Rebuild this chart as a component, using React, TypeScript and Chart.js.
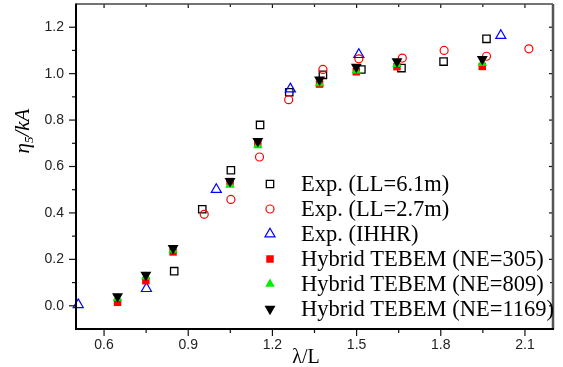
import React, { useEffect, useRef } from "react";
import { Chart, registerables } from "chart.js";
import { drawPoint } from "chart.js/helpers";

Chart.register(...registerables);

// ---- data ----
const xExp61 = [0.85, 0.95, 1.052, 1.156, 1.26, 1.38, 1.517, 1.66, 1.81, 1.963];
const yExp61 = [0.149, 0.416, 0.584, 0.779, 0.92, 0.995, 1.018, 1.024, 1.052, 1.15];

const xExp27 = [0.957, 1.052, 1.154, 1.258, 1.38, 1.508, 1.663, 1.812, 1.963, 2.114];
const yExp27 = [0.394, 0.458, 0.641, 0.888, 1.018, 1.064, 1.067, 1.1, 1.075, 1.107];

const xIHHR = [0.508, 0.751, 1.0, 1.264, 1.508, 2.014];
const yIHHR = [0.005, 0.074, 0.501, 0.934, 1.082, 1.164];

const xHybrid = [0.648, 0.749, 0.846, 1.049, 1.148, 1.368, 1.499, 1.644, 1.948];
const yNE305 = [0.015, 0.108, 0.232, 0.535, 0.705, 0.955, 1.008, 1.03, 1.031];
const yNE809 = [0.032, 0.125, 0.24, 0.52, 0.69, 0.958, 1.012, 1.04, 1.045];
const yNE1169 = [0.04, 0.133, 0.248, 0.537, 0.709, 0.974, 1.029, 1.053, 1.062];

const seriesLabels = [
  "Exp. (LL=6.1m)",
  "Exp. (LL=2.7m)",
  "Exp. (IHHR)",
  "Hybrid TEBEM (NE=305)",
  "Hybrid TEBEM (NE=809)",
  "Hybrid TEBEM (NE=1169)",
];

const xMajorTicks = [0.6, 0.9, 1.2, 1.5, 1.8, 2.1];
const xMinorTicks = [0.75, 1.05, 1.35, 1.65, 1.95];
const yMajorTicks = [0.0, 0.2, 0.4, 0.6, 0.8, 1.0, 1.2];
const yMinorTicks = [0.1, 0.3, 0.5, 0.7, 0.9, 1.1];

const X_MIN = 0.5;
const X_MAX = 2.2;
const Y_MIN = -0.1;
const Y_MAX = 1.3;

const pts = (xs: number[], ys: number[]) => xs.map((x, i) => ({ x, y: ys[i] }));

const TICK_FONT = "14px 'Liberation Sans', Arial, sans-serif";

function drawFrame(chart: any) {
  const { ctx } = chart;
  const xs = chart.scales.x;
  const ys = chart.scales.y;
  const left = xs.left;
  const right = xs.right;
  const top = ys.top;
  const bottom = ys.bottom;
  ctx.save();
  const line = (x1: number, y1: number, x2: number, y2: number) => {
    ctx.beginPath();
    ctx.moveTo(x1, y1);
    ctx.lineTo(x2, y2);
    ctx.stroke();
  };
  ctx.strokeStyle = "#111";
  ctx.lineWidth = 1.2;
  xMajorTicks.forEach((v) => {
    const p = xs.getPixelForValue(v);
    line(p, bottom, p, bottom + 7);
    line(p, top, p, top + 4);
  });
  xMinorTicks.forEach((v) => {
    const p = xs.getPixelForValue(v);
    line(p, bottom, p, bottom + 4);
    line(p, top, p, top + 3);
  });
  yMajorTicks.forEach((v) => {
    const p = ys.getPixelForValue(v);
    line(left - 7, p, left, p);
    line(right - 4, p, right, p);
  });
  yMinorTicks.forEach((v) => {
    const p = ys.getPixelForValue(v);
    line(left - 4, p, left, p);
    line(right - 3, p, right, p);
  });
  ctx.strokeStyle = "#444";
  ctx.lineWidth = 1.5;
  line(left, top, right, top);
  ctx.strokeStyle = "#555";
  ctx.lineWidth = 2.5;
  line(right, top, right, bottom);
  ctx.strokeStyle = "#000";
  ctx.lineWidth = 2;
  line(left, top - 0.5, left, bottom + 1);
  line(left - 1, bottom, right + 1, bottom);

  // tick labels
  ctx.fillStyle = "#222";
  ctx.font = TICK_FONT;
  ctx.textAlign = "center";
  ctx.textBaseline = "middle";
  xMajorTicks.forEach((v) => {
    ctx.fillText(v.toFixed(1), xs.getPixelForValue(v), bottom + 16);
  });
  ctx.textAlign = "right";
  yMajorTicks.forEach((v) => {
    ctx.fillText(v.toFixed(1), left - 12, ys.getPixelForValue(v));
  });
  ctx.restore();
}

const framePlugin = {
  id: "frame",
  afterDraw(chart: any) {
    drawFrame(chart);
    const { ctx } = chart;
    ctx.save();
    // legend
    const lx = 270;
    const tx = 301;
    const y0 = 184;
    const dy = 25;
    ctx.font = "22.5px 'Liberation Serif', 'Times New Roman', serif";
    ctx.textBaseline = "middle";
    ctx.textAlign = "left";
    chart.data.datasets.forEach((ds: any, i: number) => {
      const y = y0 + i * dy;
      ctx.fillStyle = ds.pointBackgroundColor;
      ctx.strokeStyle = ds.pointBorderColor;
      ctx.lineWidth = ds.pointBorderWidth;
      drawPoint(
        ctx,
        {
          pointStyle: ds.pointStyle,
          rotation: ds.pointRotation || 0,
          radius: ds.pointRadius,
          borderWidth: ds.pointBorderWidth,
        },
        lx,
        y
      );
      ctx.fillStyle = "#000";
      ctx.fillText(ds.label, tx, y + 1);
    });

    // x title
    ctx.fillStyle = "#000";
    ctx.textAlign = "center";
    ctx.textBaseline = "alphabetic";
    ctx.font = "20px 'Liberation Serif', 'Times New Roman', serif";
    ctx.fillText("λ/L", 306, 363);

    // y title: η₅/kA rotated
    ctx.translate(28.5, 131);
    ctx.rotate(-Math.PI / 2);
    ctx.textAlign = "left";
    const big = "italic 21px 'Liberation Serif', 'Times New Roman', serif";
    const small = "italic 13px 'Liberation Serif', 'Times New Roman', serif";
    ctx.font = big;
    const wEta = ctx.measureText("η").width;
    const wRest = ctx.measureText("/kA").width;
    ctx.font = small;
    const w5 = ctx.measureText("5").width;
    const total = wEta + w5 + wRest;
    let cx = -total / 2;
    ctx.font = big;
    ctx.fillText("η", cx, 0);
    cx += wEta;
    ctx.font = small;
    ctx.fillText("5", cx, 4);
    cx += w5;
    ctx.font = big;
    ctx.fillText("/kA", cx, 0);
    ctx.restore();
  },
};

export default function App() {
  const ref = useRef<HTMLCanvasElement | null>(null);
  useEffect(() => {
    if (!ref.current) return;
    const common = { showLine: false, clip: false as any };
    const chart = new Chart(ref.current, {
      type: "scatter",
      data: {
        datasets: [
          {
            ...common,
            label: seriesLabels[0],
            data: pts(xExp61, yExp61),
            pointStyle: "rect",
            pointRadius: 5.2,
            pointBorderWidth: 1.3,
            pointBorderColor: "#000",
            pointBackgroundColor: "rgba(0,0,0,0)",
            order: 5,
          },
          {
            ...common,
            label: seriesLabels[1],
            data: pts(xExp27, yExp27),
            pointStyle: "circle",
            pointRadius: 4,
            pointBorderWidth: 1.2,
            pointBorderColor: "#ff0000",
            pointBackgroundColor: "rgba(0,0,0,0)",
            order: 4,
          },
          {
            ...common,
            label: seriesLabels[2],
            data: pts(xIHHR, yIHHR),
            pointStyle: "triangle",
            pointRadius: 5.8,
            pointBorderWidth: 1.2,
            pointBorderColor: "#0000ff",
            pointBackgroundColor: "rgba(0,0,0,0)",
            order: 3,
          },
          {
            ...common,
            label: seriesLabels[3],
            data: pts(xHybrid, yNE305),
            pointStyle: "rect",
            pointRadius: 5.3,
            pointBorderWidth: 0,
            pointBorderColor: "#ff0000",
            pointBackgroundColor: "#ff0000",
            order: 2,
          },
          {
            ...common,
            label: seriesLabels[4],
            data: pts(xHybrid, yNE809),
            pointStyle: "triangle",
            pointRadius: 5.5,
            pointBorderWidth: 0,
            pointBorderColor: "#00ee00",
            pointBackgroundColor: "#00ee00",
            order: 1,
          },
          {
            ...common,
            label: seriesLabels[5],
            data: pts(xHybrid, yNE1169),
            pointStyle: "triangle",
            pointRotation: 180,
            pointRadius: 6.3,
            pointBorderWidth: 0,
            pointBorderColor: "#000",
            pointBackgroundColor: "#000",
            order: 0,
          },
        ] as any,
      },
      options: {
        responsive: false,
        animation: false,
        events: [],
        layout: { autoPadding: false, padding: { left: 0, right: 10, top: 4, bottom: 0 } },
        plugins: { legend: { display: false }, tooltip: { enabled: false } },
        scales: {
          x: {
            type: "linear",
            min: X_MIN,
            max: X_MAX,
            grid: { display: false },
            border: { display: false },
            ticks: { display: false },
            afterFit: (s: any) => {
              s.height = 38;
              s.paddingLeft = 0;
              s.paddingRight = 0;
            },
          },
          y: {
            type: "linear",
            min: Y_MIN,
            max: Y_MAX,
            grid: { display: false },
            border: { display: false },
            ticks: { display: false },
            afterFit: (s: any) => {
              s.width = 76;
              s.paddingTop = 0;
              s.paddingBottom = 0;
            },
          },
        },
      } as any,
      plugins: [framePlugin],
    });
    return () => chart.destroy();
  }, []);
  return (
    <div style={{ position: "absolute", left: 0, top: 0, width: 563, height: 367, background: "#fff" }}>
      <canvas ref={ref} width={563} height={367} style={{ display: "block" }} />
    </div>
  );
}
